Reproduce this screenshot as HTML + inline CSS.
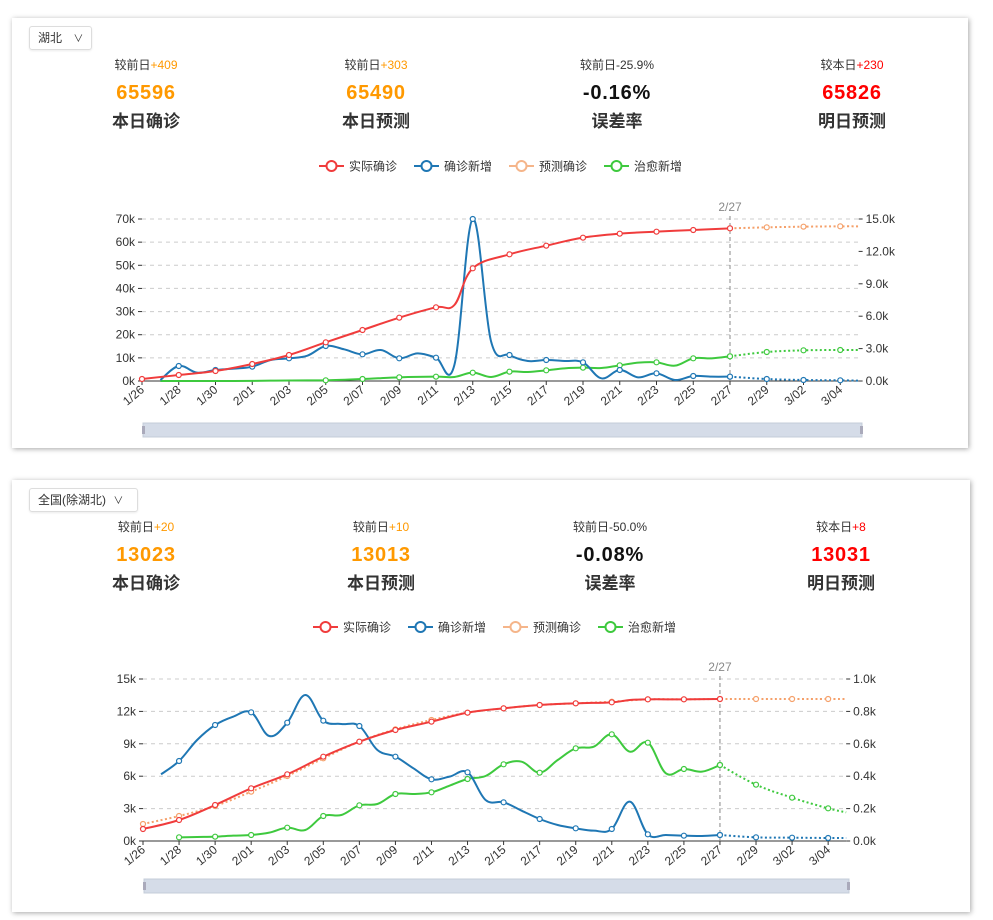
<!DOCTYPE html>
<html><head><meta charset="utf-8">
<style>
body{margin:0;width:993px;height:920px;background:#fff;font-family:"Liberation Sans","Noto Sans CJK SC",sans-serif;position:relative;overflow:hidden}
.card{position:absolute;left:12px;width:956px;background:#fff;box-shadow:1px 1px 5px rgba(0,0,0,.35)}
.sel{position:absolute;border:1px solid #ddd;border-radius:3px;font-size:12px;color:#333;height:22px;line-height:22px;padding-left:8px;box-shadow:0 1px 2px rgba(0,0,0,.08)}
.st{position:absolute;text-align:center;width:200px;margin-left:-100px}
.st .a{font-size:12px;color:#333;height:16px;line-height:16px}
.st .b{font-size:20px;font-weight:bold;margin-top:8px;height:24px;line-height:24px;letter-spacing:0.8px}
.st .c{font-size:17px;font-weight:bold;color:#333;margin-top:7px;line-height:20px}
.o{color:#f90}.r{color:#f00}
svg{position:absolute;left:0;top:0}
</style></head><body>
<div class="card" style="top:18px;height:430px"></div>
<div class="card" style="top:480px;height:432px;width:958px"></div>
<div class="sel" style="left:29px;top:26px;width:53px">湖北 <span style="margin-left:8px;font-size:10px">∨</span></div>
<div class="sel" style="left:29px;top:488px;width:99px">全国(除湖北) <span style="margin-left:4px;font-size:10px">∨</span></div>

<div class="st" style="left:146px;top:57px"><div class="a">较前日<span class="o">+409</span></div><div class="b o">65596</div><div class="c">本日确诊</div></div>
<div class="st" style="left:376px;top:57px"><div class="a">较前日<span class="o">+303</span></div><div class="b o">65490</div><div class="c">本日预测</div></div>
<div class="st" style="left:617px;top:57px"><div class="a">较前日-25.9%</div><div class="b" style="color:#111">-0.16%</div><div class="c">误差率</div></div>
<div class="st" style="left:852px;top:57px"><div class="a">较本日<span class="r">+230</span></div><div class="b r">65826</div><div class="c">明日预测</div></div>

<div class="st" style="left:146px;top:519px"><div class="a">较前日<span class="o">+20</span></div><div class="b o">13023</div><div class="c">本日确诊</div></div>
<div class="st" style="left:381px;top:519px"><div class="a">较前日<span class="o">+10</span></div><div class="b o">13013</div><div class="c">本日预测</div></div>
<div class="st" style="left:610px;top:519px"><div class="a">较前日-50.0%</div><div class="b" style="color:#111">-0.08%</div><div class="c">误差率</div></div>
<div class="st" style="left:841px;top:519px"><div class="a">较本日<span class="r">+8</span></div><div class="b r">13031</div><div class="c">明日预测</div></div>

<svg id="s" width="993" height="920" xmlns="http://www.w3.org/2000/svg"></svg>
<script>
const S=document.getElementById('s');let out='';
const dates=[];{const m=[[1,26,31],[2,1,29],[3,1,5]];for(const [mo,a,b] of m)for(let d=a;d<=b;d++)dates.push(mo+'/'+(mo==1?d:String(d).padStart(2,'0')));}
function path(pts){if(pts.length<2)return'';let d='M'+pts[0][0]+','+pts[0][1];for(let i=0;i<pts.length-1;i++){const p0=pts[i-1]||pts[i],p1=pts[i],p2=pts[i+1],p3=pts[i+2]||p2;const t=0.18;d+=' C'+(p1[0]+(p2[0]-p0[0])*t)+','+(p1[1]+(p2[1]-p0[1])*t)+' '+(p2[0]-(p3[0]-p1[0])*t)+','+(p2[1]-(p3[1]-p1[1])*t)+' '+p2[0]+','+p2[1];}return d;}
function legend(cx,y){const items=[['实际确诊','#f03c3c'],['确诊新增','#1f77b4'],['预测确诊','#f5b58a'],['治愈新增','#3ec93e']];let x=cx-184;for(const [t,c] of items){out+=`<line x1="${x}" y1="${y}" x2="${x+25}" y2="${y}" stroke="${c}" stroke-width="2"/><circle cx="${x+12.5}" cy="${y}" r="5" fill="#fff" stroke="${c}" stroke-width="2"/><text x="${x+30}" y="${y+4.5}" font-size="12" fill="#333">${t}</text>`;x+=95;}}
function idx(arr){return arr.map(([d,v])=>[dates.indexOf(d),v]);}
function chartBody(o){const {x0,sp,top,y0,zy,series,dz}=o;const xe=x0+39*sp;
out+=`<line x1="${x0}" y1="${y0}" x2="${xe}" y2="${y0}" stroke="#333"/>`;
for(let i=0;i<=39;i+=2){const x=x0+i*sp;out+=`<line x1="${x}" y1="${y0}" x2="${x}" y2="${y0+4}" stroke="#333"/><text transform="translate(${x+3},${y0+10}) rotate(-40)" font-size="12" fill="#333" text-anchor="end">${dates[i]}</text>`;}
const xv=x0+32*sp;out+=`<line x1="${xv}" y1="${top-3}" x2="${xv}" y2="${y0}" stroke="#888" stroke-dasharray="4,3"/><text x="${xv}" y="${top-8}" font-size="12" fill="#888" text-anchor="middle">2/27</text>`;
for(const s of series){const pts=[];for(const [i,v] of s.d)pts.push([x0+i*sp,zy(v)]);out+=`<path d="${path(pts)}" fill="none" stroke="${s.c}" stroke-width="2" ${s.dot?'stroke-dasharray="2,2.5"':''}/>`;
for(const p of pts){const i=Math.round((p[0]-x0)/sp);if(i%2==0)out+=`<circle cx="${p[0]}" cy="${p[1]}" r="2.5" fill="#fff" stroke="${s.c}" stroke-width="1.2"/>`;}}
out+=`<rect x="${dz[0]}" y="${dz[1]}" width="${dz[2]-dz[0]}" height="14" fill="#d5dce8" stroke="#c4ccd8"/><rect x="${dz[0]-1}" y="${dz[1]+3}" width="3" height="8" fill="#aab"/><rect x="${dz[2]-2}" y="${dz[1]+3}" width="3" height="8" fill="#aab"/>`;}
// top
const T=v=>190+v/3;
legend(503,166);
(function(){const x0=142,sp=18.375,top=219,y0=381,xe=x0+39*sp;
const L=['0k','10k','20k','30k','40k','50k','60k','70k'];
for(let i=0;i<8;i++){const y=y0-(y0-top)*i/7;if(i>0)out+=`<line x1="${x0}" y1="${y}" x2="${xe}" y2="${y}" stroke="#ccc" stroke-dasharray="4,4"/>`;out+=`<text x="${x0-7}" y="${y+4}" font-size="12" fill="#333" text-anchor="end">${L[i]}</text><line x1="${x0-4}" y1="${y}" x2="${x0}" y2="${y}" stroke="#333"/>`;}
const R=['0.0k','3.0k','6.0k','9.0k','12.0k','15.0k'];
for(let i=0;i<6;i++){const y=y0-(y0-top)*i/5;out+=`<text x="${xe+7}" y="${y+4}" font-size="12" fill="#333">${R[i]}</text><line x1="${xe}" y1="${y}" x2="${xe+4}" y2="${y}" stroke="#333"/>`;}
})();
const redT=idx([['1/26',567],['1/28',555],['1/30',543],['2/01',522],['2/03',495],['2/05',457],['2/07',420],['2/09',383],['2/11',352],['2/12',345],['2/13',235],['2/15',193],['2/17',167],['2/19',143],['2/21',131],['2/23',125],['2/25',120],['2/27',115]]);
const blueT=[[1,570],[2,528],[3,548],[4,540],[5,536],[6,530],[7,510],[8,505],[9,497],[10,468],[11,478],[12,493],[13,480],[14,505],[15,490],[16,503],[17,525],[18,87],[19,455],[20,495],[21,513],[22,510],[23,513],[24,517],[25,565],[26,540],[27,562],[28,550],[29,570],[30,558],[31,560],[32,560]];
const blueTf=[[32,560],[34,567],[36,570],[38,571],[39,572]];
const gT=[[1,573],[3,573],[5,573],[7,572],[9,571],[10,571],[12,567],[14,562],[16,560],[17,561],[18,548],[19,561],[20,545],[21,546],[22,541],[23,535],[24,533],[25,534],[26,526],[27,518],[28,517],[29,527],[30,505],[31,505],[32,499]];
const gTf=[[32,499],[34,486],[36,481],[38,480],[39,480]];
const oT=[[32,115],[34,112],[36,110],[38,109],[39,109]];
chartBody({x0:142,sp:18.375,top:219,y0:381,zy:T,dz:[143,423,862],series:[
{d:oT,c:'#f5a06a',dot:1},{d:gT,c:'#3ec93e'},{d:gTf,c:'#3ec93e',dot:1},{d:blueT,c:'#1f77b4'},{d:blueTf,c:'#1f77b4',dot:1},{d:redT,c:'#f03c3c'}]});
// bottom
legend(497,627);
const B=v=>650+v/3;
(function(){const x0=143,sp=18.03,top=679,y0=841,xe=x0+39*sp;const L=['0k','3k','6k','9k','12k','15k'],R=['0.0k','0.2k','0.4k','0.6k','0.8k','1.0k'];
for(let i=0;i<6;i++){const y=y0-(y0-top)*i/5;if(i>0)out+=`<line x1="${x0}" y1="${y}" x2="${xe}" y2="${y}" stroke="#ccc" stroke-dasharray="4,4"/>`;out+=`<text x="${x0-7}" y="${y+4}" font-size="12" fill="#333" text-anchor="end">${L[i]}</text><line x1="${x0-4}" y1="${y}" x2="${x0}" y2="${y}" stroke="#333"/><text x="${xe+7}" y="${y+4}" font-size="12" fill="#333">${R[i]}</text><line x1="${xe}" y1="${y}" x2="${xe+4}" y2="${y}" stroke="#333"/>`;}})();
const redB=idx([['1/26',537],['1/28',510],['1/30',465],['2/01',415],['2/03',373],['2/05',320],['2/07',275],['2/09',240],['2/11',215],['2/13',188],['2/15',175],['2/17',165],['2/19',160],['2/21',157],['2/22',150],['2/23',148],['2/25',148],['2/27',147]]);
const oB=[[0,522],[2,498],[4,468],[6,425],[8,378],[10,325],[12,275],[14,238],[16,210],[18,188],[20,175],[22,165],[24,160],[26,155],[28,148],[30,148],[32,147],[34,147],[36,147],[38,147],[39,147]];
const bB=[[1,373],[2,333],[3,270],[4,225],[5,200],[6,187],[7,258],[8,218],[9,135],[10,212],[11,222],[12,228],[13,300],[14,320],[15,355],[16,388],[17,380],[18,367],[19,450],[20,457],[21,482],[22,507],[23,525],[24,535],[25,542],[26,537],[27,455],[28,553],[29,555],[30,557],[31,558],[32,555]];
const bBf=[[32,555],[34,562],[36,563],[38,564],[39,564]];
const gB=[[2,562],[3,561],[4,560],[5,557],[6,555],[7,548],[8,533],[9,540],[10,498],[11,495],[12,466],[13,462],[14,432],[15,432],[16,427],[17,407],[18,387],[19,378],[20,343],[21,335],[22,368],[23,330],[24,295],[25,290],[26,253],[27,305],[28,278],[29,370],[30,357],[31,365],[32,345]];
const gBf=[[32,345],[34,404],[36,443],[38,475],[39,487]];
chartBody({x0:143,sp:18.03,top:679,y0:841,zy:B,dz:[144,879,849],series:[
{d:oB,c:'#f5a06a',dot:1},{d:gB,c:'#3ec93e'},{d:gBf,c:'#3ec93e',dot:1},{d:bB,c:'#1f77b4'},{d:bBf,c:'#1f77b4',dot:1},{d:redB,c:'#f03c3c'}]});
S.innerHTML=out;
</script>
</body></html>
